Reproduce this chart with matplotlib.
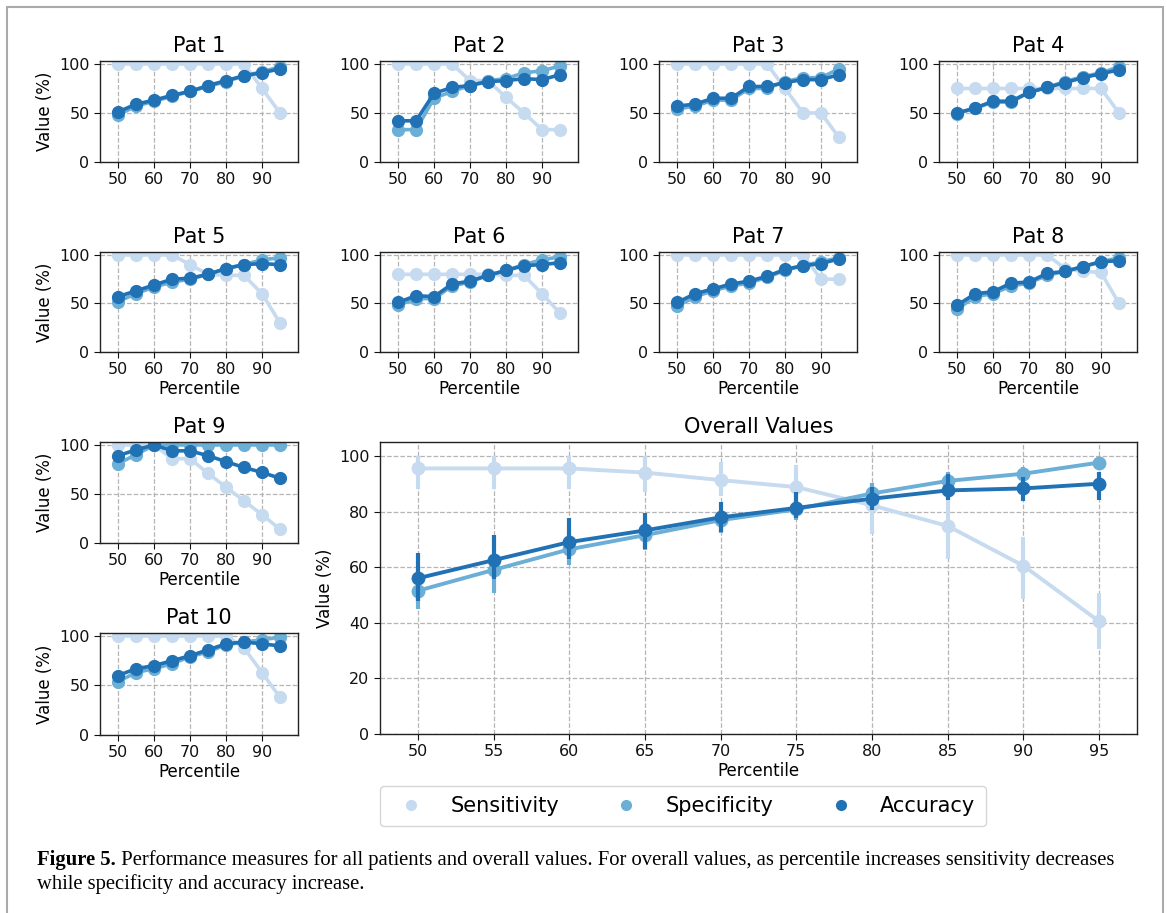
import numpy as np
import matplotlib
matplotlib.use('Agg')
import matplotlib.pyplot as plt
from matplotlib.lines import Line2D
from matplotlib.patches import Rectangle

W, H = 1167, 913

percentiles = [50, 55, 60, 65, 70, 75, 80, 85, 90, 95]

# per patient: sensitivity, specificity, accuracy (%)
sens = {
    1: [100, 100, 100, 100, 100, 100, 100, 100, 75, 50],
    2: [100, 100, 100, 100, 83, 83, 66, 50, 33, 33],
    3: [100, 100, 100, 100, 100, 100, 75, 50, 50, 25],
    4: [75, 75, 75, 75, 75, 75, 75, 75, 75, 50],
    5: [100, 100, 100, 100, 90, 80, 79, 79, 60, 30],
    6: [80, 80, 80, 80, 80, 80, 79, 79, 60, 40],
    7: [100, 100, 100, 100, 100, 100, 100, 100, 75, 75],
    8: [100, 100, 100, 100, 100, 100, 86, 83, 82, 50],
    9: [100, 100, 100, 86, 86, 71, 57, 43, 29, 14],
    10: [100, 100, 100, 100, 100, 100, 100, 88, 63, 38],
}
spec = {
    1: [48, 57, 62, 67, 72, 77, 82, 88, 92, 97],
    2: [33, 33, 65, 72, 78, 83, 85, 91, 93, 98],
    3: [54, 57, 63, 63, 75, 75, 82, 86, 86, 95],
    4: [49, 55, 61, 61, 71, 76, 82, 87, 91, 97],
    5: [52, 60, 67, 72, 75, 80, 86, 90, 95, 97],
    6: [48, 55, 55, 68, 72, 79, 84, 90, 95, 98],
    7: [47, 57, 63, 68, 71, 77, 84, 89, 93, 97],
    8: [44, 57, 60, 68, 71, 79, 83, 88, 93, 97],
    9: [81, 90, 100, 100, 100, 100, 100, 100, 100, 100],
    10: [54, 63, 67, 72, 79, 84, 91, 94, 96, 99],
}
acc = {
    1: [51, 59, 63, 68, 72, 78, 83, 88, 91, 95],
    2: [42, 42, 70, 76, 78, 82, 83, 85, 84, 89],
    3: [57, 59, 65, 65, 77, 77, 81, 84, 84, 89],
    4: [50, 55, 62, 62, 71, 76, 81, 86, 90, 94],
    5: [57, 63, 69, 75, 76, 80, 86, 90, 91, 90],
    6: [51, 58, 57, 70, 73, 79, 84, 89, 90, 92],
    7: [51, 60, 65, 70, 73, 78, 85, 89, 91, 96],
    8: [48, 60, 62, 71, 72, 81, 83, 88, 93, 94],
    9: [89, 95, 100, 94, 94, 89, 83, 77, 72, 66],
    10: [60, 67, 70, 75, 80, 86, 92, 94, 92, 90],
}

# overall means and confidence intervals
overall_sens = [95.5, 95.5, 95.5, 94, 91.3, 88.8, 82.2, 74.8, 60.5, 40.5]
overall_sens_lo = [88, 88, 88, 87, 85.5, 81.7, 72, 63, 48.7, 30.4]
overall_sens_hi = [100, 100, 100, 100, 97.8, 96.6, 90, 84.7, 71, 50.8]
overall_spec = [51.5, 59, 66.4, 71.5, 76.9, 80.8, 86.5, 91, 93.6, 97.6]
overall_spec_lo = [45, 50.8, 60.7, 66, 72.3, 77, 83, 87.7, 91, 96]
overall_spec_hi = [58.9, 63.7, 72, 75.7, 80.5, 84, 90.3, 94.2, 96, 99]
overall_acc = [56, 62.5, 69, 73.2, 77.9, 81.3, 84.6, 87.6, 88.3, 90]
overall_acc_lo = [48, 55.7, 63, 66.7, 72.7, 77.5, 80.5, 84, 83.8, 84]
overall_acc_hi = [65.1, 71.5, 77.5, 79.5, 83.5, 87, 88.9, 93.6, 92.5, 94.2]

series_names = ['Sensitivity', 'Specificity', 'Accuracy']
colors = ['#c6dbef', '#6baed6', '#2171b5']

TICK_FS = 11.5
LABEL_FS = 12
TITLE_FS = 15
CAP_FS = 14.9

plt.rcParams['font.family'] = 'DejaVu Sans'
fig = plt.figure(figsize=(W / 100, H / 100), dpi=100)


def box(l, t, r, b):
    return [l / W, 1 - b / H, (r - l) / W, (b - t) / H]


def style_axes(ax):
    ax.grid(True, linestyle='--', color='#b5b5b5', linewidth=0.9)
    ax.set_axisbelow(True)
    for s in ax.spines.values():
        s.set_color('#222222')
        s.set_linewidth(1.0)
    ax.tick_params(labelsize=TICK_FS, colors='#111111', length=4)


cols = [100, 380, 659, 939]
rows = [(61, 162), (252, 352), (442, 543), (633, 735)]
positions = {}
for i in range(8):
    r, c = divmod(i, 4)
    positions[i + 1] = (cols[c], rows[r][0], cols[c] + 198, rows[r][1])
positions[9] = (100, rows[2][0], 298, rows[2][1])
positions[10] = (100, rows[3][0], 298, rows[3][1])

for p in range(1, 11):
    ax = fig.add_axes(box(*positions[p]))
    for vals, col in zip([sens[p], spec[p], acc[p]], colors):
        ax.plot(percentiles, vals, '-o', color=col, lw=2.6, ms=8.5)
    ax.set_xlim(45, 100)
    ax.set_ylim(0, 103)
    ax.set_xticks([50, 60, 70, 80, 90])
    ax.set_yticks([0, 50, 100])
    ax.set_title('Pat %d' % p, fontsize=TITLE_FS, pad=6.5)
    style_axes(ax)
    if p in (1, 5, 9, 10):
        ax.set_ylabel('Value (%)', fontsize=LABEL_FS)
    if p >= 5:
        ax.set_xlabel('Percentile', fontsize=LABEL_FS, labelpad=2)

# overall panel
ax = fig.add_axes(box(380, 442, 1137, 734))
overall = [(overall_sens, overall_sens_lo, overall_sens_hi),
           (overall_spec, overall_spec_lo, overall_spec_hi),
           (overall_acc, overall_acc_lo, overall_acc_hi)]
for (m, lo, hi), col in zip(overall, colors):
    ax.vlines(percentiles, lo, hi, color=col, lw=3.0)
    ax.plot(percentiles, m, '-o', color=col, lw=2.8, ms=9)
ax.set_xlim(47.5, 97.5)
ax.set_ylim(0, 105)
ax.set_xticks(percentiles)
ax.set_yticks([0, 20, 40, 60, 80, 100])
ax.set_title('Overall Values', fontsize=TITLE_FS, pad=6.5)
ax.set_ylabel('Value (%)', fontsize=LABEL_FS)
ax.set_xlabel('Percentile', fontsize=LABEL_FS, labelpad=2)
style_axes(ax)

handles = [Line2D([], [], marker='o', linestyle='none', color=c, ms=7)
           for c in colors]
fig.legend(handles, series_names, loc='center', ncol=3,
           bbox_to_anchor=(683 / W, 1 - 806 / H), fontsize=15,
           handletextpad=0.9, columnspacing=2.2, frameon=True,
           edgecolor='#cccccc', fancybox=True, borderpad=0.5)

# caption
cap1 = fig.text(37 / W, 1 - 865 / H, 'Figure 5.', fontsize=CAP_FS,
                family='Liberation Serif', weight='bold', va='baseline')
plt.annotate(' Performance measures for all patients and overall values. For overall values, '
             'as percentile increases sensitivity decreases',
             xy=(1, 0), xycoords=cap1, va='bottom', ha='left',
             fontsize=CAP_FS, family='Liberation Serif', annotation_clip=False)
fig.text(37 / W, 1 - 889 / H, 'while specificity and accuracy increase.',
         fontsize=CAP_FS, family='Liberation Serif', va='baseline')

# page frame
fig.patches.append(Rectangle((7 / W, -0.05), (1163 - 7) / W, 1.05 - 7 / H,
                             transform=fig.transFigure, fill=False,
                             edgecolor='#aaaaaa', lw=1.5))

fig.savefig('out.png', dpi=100)
